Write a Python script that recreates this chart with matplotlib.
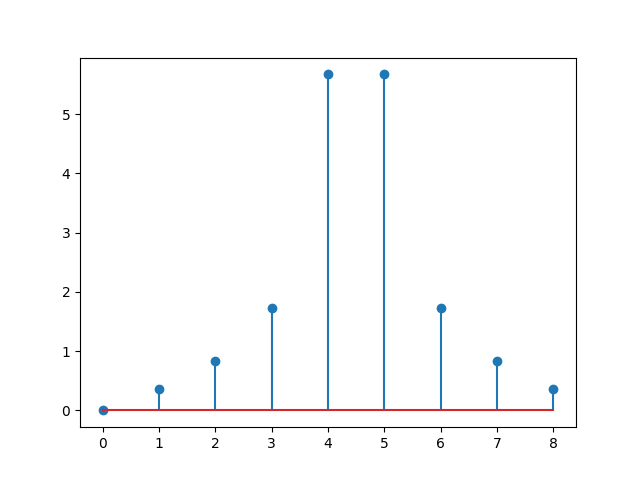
import matplotlib
matplotlib.use("Agg")
import matplotlib.pyplot as plt

# values
k = [0, 1, 2, 3, 4, 5, 6, 7, 8]
mag = [0.0, 0.36, 0.83, 1.73, 5.67, 5.67, 1.73, 0.83, 0.36]

fig, ax = plt.subplots(figsize=(6.4, 4.8), dpi=100)
ax.stem(k, mag)
fig.savefig("out.png")
